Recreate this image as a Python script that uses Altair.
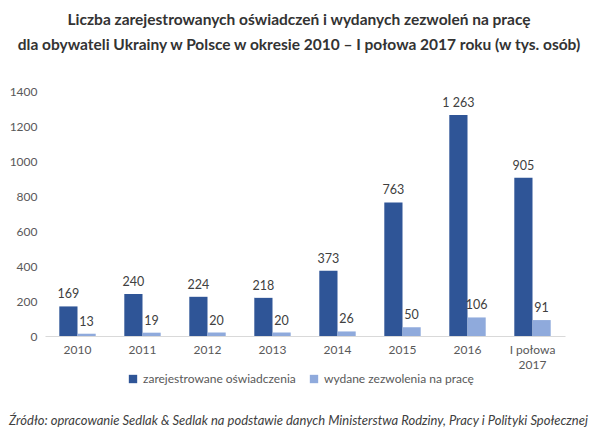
import altair as alt
import pandas as pd

years = ["2010", "2011", "2012", "2013", "2014", "2015", "2016", "I połowa|2017"]
oswiadczenia = [169, 240, 224, 218, 373, 763, 1263, 905]
zezwolenia = [13, 19, 20, 20, 26, 50, 106, 91]
series = ["zarejestrowane oświadczenia", "wydane zezwolenia na pracę"]
colors = ["#2F5597", "#8FAADC"]

rows = []
for y, a, b in zip(years, oswiadczenia, zezwolenia):
    rows.append({"rok": y, "seria": series[0], "v": a, "lab": f"{a:,}".replace(",", " ")})
    rows.append({"rok": y, "seria": series[1], "v": b, "lab": f"{b:,}".replace(",", " ")})
df = pd.DataFrame(rows)

FONT = "Lato"

x = alt.X("rok:N", sort=years, title=None,
          scale=alt.Scale(paddingInner=0.44, paddingOuter=0.22),
          axis=alt.Axis(labelAngle=0, labelExpr="split(datum.label, '|')",
                        domainColor="#d9d9d9", ticks=False, labelPadding=8,
                        labelFontSize=12, labelColor="#595959", labelFont=FONT,
                        labelLineHeight=15))
y = alt.Y("v:Q", title=None, scale=alt.Scale(domain=[0, 1400]),
          axis=alt.Axis(values=list(range(0, 1401, 200)), format="d", grid=False,
                        domain=False, ticks=False, labelPadding=8, labelFontSize=12,
                        labelColor="#595959", labelFont=FONT))
xo = alt.XOffset("seria:N", sort=series)

bars = alt.Chart(df).mark_bar().encode(
    x=x, y=y, xOffset=xo,
    color=alt.Color("seria:N", sort=series,
                    scale=alt.Scale(domain=series, range=colors),
                    legend=alt.Legend(title=None, orient="none", direction="horizontal",
                                      legendX=82, legendY=282, symbolType="square",
                                      symbolSize=70, labelFontSize=12, labelFont=FONT,
                                      labelColor="#595959", columnPadding=12,
                                      symbolStrokeWidth=0))
)
labels = alt.Chart(df).mark_text(baseline="bottom", dy=-5, fontSize=12.5, font=FONT,
                                 color="#404040").encode(
    x=x, y=y, xOffset=xo, text="lab:N"
)
source = alt.Chart(pd.DataFrame({"t": ["Źródło: opracowanie Sedlak & Sedlak na podstawie danych Ministerstwa Rodziny, Pracy i Polityki Społecznej"]})).mark_text(
    align="left", baseline="middle", fontSize=13, fontStyle="italic", font=FONT,
    color="#404040").encode(x=alt.value(-36), y=alt.value(330), text="t:N")

chart = alt.layer(bars, labels, source).properties(
    width=520, height=245,
    title=alt.TitleParams(
        ["Liczba zarejestrowanych oświadczeń i wydanych zezwoleń na pracę",
         "dla obywateli Ukrainy w Polsce w okresie 2010 – I połowa 2017 roku (w tys. osób)"],
        fontSize=15.5, font=FONT, fontWeight="bold", color="#333333", anchor="middle",
        offset=32, lineHeight=25, dx=-6),
    autosize=alt.AutoSizeParams(type="none"),
    padding={"left": 37, "top": 83, "right": 28, "bottom": 96},
).configure_view(stroke=None)

chart.save("out.html", embed_options={"renderer": "svg", "actions": False})
